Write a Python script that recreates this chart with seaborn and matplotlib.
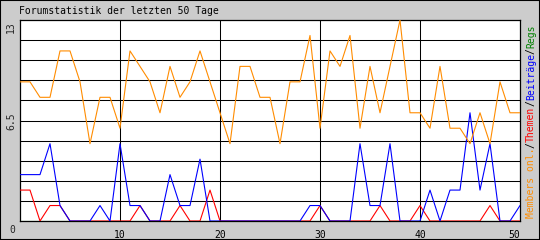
import numpy as np
import pandas as pd
import matplotlib
matplotlib.use("Agg")
import matplotlib.pyplot as plt
import seaborn as sns
from matplotlib.patches import Rectangle

# ---- data ----
days = list(range(51))
members = [9, 9, 8, 8, 11, 11, 9, 5, 8, 8, 6, 11, 10, 9, 7, 10, 8, 9, 11, 9,
           7, 5, 10, 10, 8, 8, 5, 9, 9, 12, 6, 11, 10, 12, 6, 10, 7, 10, 13, 7,
           7, 6, 10, 6, 6, 5, 7, 5, 9, 7, 7]
themen = [2, 2, 0, 1, 1, 0, 0, 0, 0, 0, 0, 0, 1, 0, 0, 0, 1, 0, 0, 2,
          0, 0, 0, 0, 0, 0, 0, 0, 0, 0, 1, 0, 0, 0, 0, 0, 1, 0, 0, 0,
          1, 0, 0, 0, 0, 0, 0, 1, 0, 0, 0]
beitraege = [3, 3, 3, 5, 1, 0, 0, 0, 1, 0, 5, 1, 1, 0, 0, 3, 1, 1, 4, 0,
             0, 0, 0, 0, 0, 0, 0, 0, 0, 1, 1, 0, 0, 0, 5, 1, 1, 5, 0, 0,
             0, 2, 0, 2, 2, 7, 2, 5, 0, 0, 1]
regs = [0] * 51

title = "Forumstatistik der letzten 50 Tage"
x_tick_vals = [10, 20, 30, 40, 50]
x_tick_labels = ["10", "20", "30", "40", "50"]
y_labels = ["13", "6.5"]
legend_parts = [("Members onl.", "#ff8c00"), ("/", "#000000"), ("Themen", "#ff0000"),
                ("/", "#000000"), ("Beiträge", "#0000ff"), ("/", "#000000"),
                ("Regs", "#008000")]

df = pd.DataFrame({"day": days, "members": members, "themen": themen,
                   "beitraege": beitraege, "regs": regs})

W, H = 540, 240
sns.set_style("white")
plt.rcParams["font.family"] = ["DejaVu Sans Mono"]

fig = plt.figure(figsize=(W / 100, H / 100), dpi=100)
fig.patch.set_facecolor("#cccccc")

def fx(px):
    return px / W

def fy(py):
    return 1 - py / H

ax = fig.add_axes([fx(20), fy(221), fx(500), 201 / H])
ax.set_facecolor("white")

lw = 0.8
sns.lineplot(data=df, x="day", y="regs", color="#008000", linewidth=lw, ax=ax, zorder=3)
sns.lineplot(data=df, x="day", y="themen", color="#ff0000", linewidth=lw, ax=ax, zorder=4)
sns.lineplot(data=df, x="day", y="beitraege", color="#0000ff", linewidth=lw, ax=ax, zorder=5)
sns.lineplot(data=df, x="day", y="members", color="#ff8c00", linewidth=lw, ax=ax, zorder=6)
for ln in ax.lines:
    ln.set_linewidth(lw)

ax.set_xlim(0, 50)
ax.set_ylim(0, 13)
ax.set_xticks([10, 20, 30, 40])
ax.set_yticks(np.arange(1, 10) * 1.3)
ax.grid(True, color="black", lw=0.75)
ax.set_axisbelow(True)
ax.tick_params(length=0, labelbottom=False, labelleft=False)
ax.set_xlabel("")
ax.set_ylabel("")
for s in ax.spines.values():
    s.set_color("black")
    s.set_linewidth(0.9)

fs = 7.0
# title
fig.text(fx(19), fy(11), title, fontsize=fs, va="center", ha="left", color="black")
# x tick labels
for v, lab in zip(x_tick_vals, x_tick_labels):
    ax.text(v, -0.045, lab, transform=ax.get_xaxis_transform(), fontsize=fs,
            ha="right" if v == 50 else "center", va="top", color="black")
# y labels
fig.text(fx(12), fy(230), "0", fontsize=fs, ha="center", va="center")
fig.text(fx(11), fy(21), y_labels[0], fontsize=fs, rotation=90, ha="center", va="top")
fig.text(fx(11), fy(121), y_labels[1], fontsize=fs, rotation=90, ha="center", va="center")

# right vertical legend
fig.canvas.draw()
renderer = fig.canvas.get_renderer()
ycur = fy(218)
for s, c in legend_parts:
    t = fig.text(fx(531), ycur, s, fontsize=fs, rotation=90, ha="center", va="bottom",
                 color=c)
    bb = t.get_window_extent(renderer)
    ycur = bb.y1 / H

fig.patches.append(Rectangle((0, 0), 1, 1, transform=fig.transFigure, fill=False,
                             ec="black", lw=1.5))

fig.savefig("out.png", dpi=100, facecolor=fig.get_facecolor())
